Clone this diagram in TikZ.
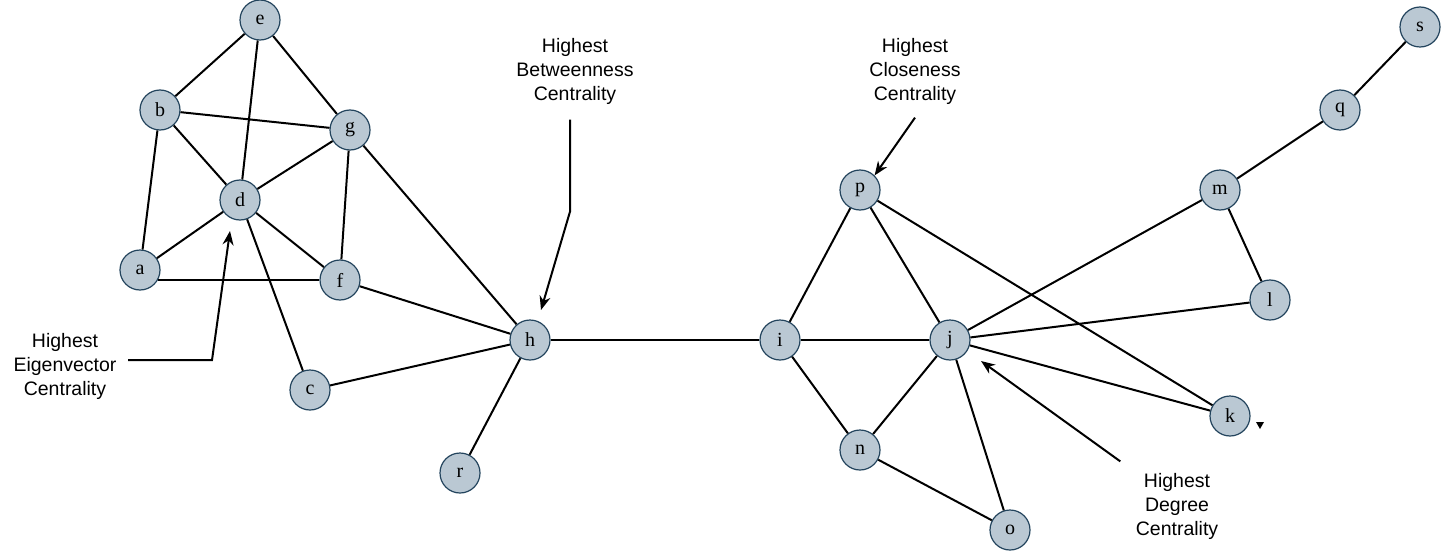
\documentclass[tikz,border=0pt]{standalone}
\usepackage{fontspec}
\setmainfont{Liberation Serif}
\setsansfont{Liberation Sans}
\usetikzlibrary{arrows.meta}
\definecolor{nodefill}{HTML}{BAC8D3}
\definecolor{nodeline}{HTML}{23445D}
\tikzset{
    >=Stealth,
    vertex/.style={circle, draw=nodeline, fill=nodefill, line width=1.2pt, minimum size=40pt, inner sep=0pt, font=\fontsize{20}{24}\selectfont},
    edge/.style={line width=2pt},
    note/.style={align=center, font=\sffamily\fontsize{19.5}{24}\selectfont},
    pointer/.style={line width=2pt, -{Stealth[length=14pt, width=11pt]}}
}

\begin{document}
\begin{tikzpicture}[x=1pt, y=-1pt]

    \useasboundingbox (0,0) rectangle (1450,551);

    % left cluster
    \node[vertex] (e) at (260,20) {e};
    \node[vertex] (b) at (160,110) {b};
    \node[vertex] (g) at (350,130) {g};
    \node[vertex] (d) at (240,200) {d};
    \node[vertex] (a) at (140,270) {a};
    \node[vertex] (f) at (340,280) {f};
    \node[vertex] (c) at (310,390) {c};
    \node[vertex] (h) at (530,340) {h};
    \node[vertex] (r) at (460,473) {r};

    % right cluster
    \node[vertex] (i) at (780,340) {i};
    \node[vertex] (j) at (950,340) {j};
    \node[vertex] (p) at (860,190) {p};
    \node[vertex] (n) at (860,450) {n};
    \node[vertex] (o) at (1010,530) {o};
    \node[vertex] (k) at (1230,416) {k};
    \node[vertex] (l) at (1270,300) {l};
    \node[vertex] (m) at (1220,190) {m};
    \node[vertex] (q) at (1340,110) {q};
    \node[vertex] (s) at (1420,27) {s};

    \draw[edge] (e) -- (b);  \draw[edge] (e) -- (d);  \draw[edge] (e) -- (g);
    \draw[edge] (b) -- (g);  \draw[edge] (b) -- (d);  \draw[edge] (b) -- (a);
    \draw[edge] (g) -- (d);  \draw[edge] (g) -- (f);  \draw[edge] (g) -- (h);
    \draw[edge] (d) -- (a);  \draw[edge] (d) -- (f);  \draw[edge] (d) -- (c);
    \draw[edge] (a.-30) -- (a.-30 -| f.west);
    \draw[edge] (f) -- (h);  \draw[edge] (c) -- (h);  \draw[edge] (h) -- (r);
    \draw[edge] (h) -- (i);
    \draw[edge] (i) -- (p);  \draw[edge] (i) -- (j);  \draw[edge] (i) -- (n);
    \draw[edge] (p) -- (j);  \draw[edge] (p) -- (k);
    \draw[edge] (j) -- (m);  \draw[edge] (j) -- (l);  \draw[edge] (j) -- (k);
    \draw[edge] (j) -- (n);  \draw[edge] (j) -- (o);  \draw[edge] (n) -- (o);
    \draw[edge] (m) -- (l);  \draw[edge] (m) -- (q);  \draw[edge] (q) -- (s);

    % annotations
    \node[note] (btw) at (575,71) {Highest\\Betweenness\\Centrality};
    \node[note] (clo) at (915,71) {Highest\\Closeness\\Centrality};
    \node[note] (eig) at (65,366) {Highest\\Eigenvector\\Centrality};
    \node[note] (deg) at (1177,506) {Highest\\Degree\\Centrality};

    \coordinate (btw-in) at (541,310);
    \coordinate (eig-in) at (230,231);
    \coordinate (deg-in) at (981,361);

    \draw[pointer] ([xshift=-5pt, yshift=-12pt]btw.south) -- ++(0,92) -- (btw-in);
    \draw[pointer] ([yshift=-10pt]clo.south) -- (p.north east);
    \draw[pointer] ([xshift=8pt, yshift=6pt]eig.east) -- ++(84,0) -- (eig-in);
    \draw[pointer] ([xshift=-12pt, yshift=8pt]deg.north west) -- (deg-in);

    % stray marker next to k
    \fill (1256,422) -- (1264,422) -- (1260,429) -- cycle;

\end{tikzpicture}
\end{document}
